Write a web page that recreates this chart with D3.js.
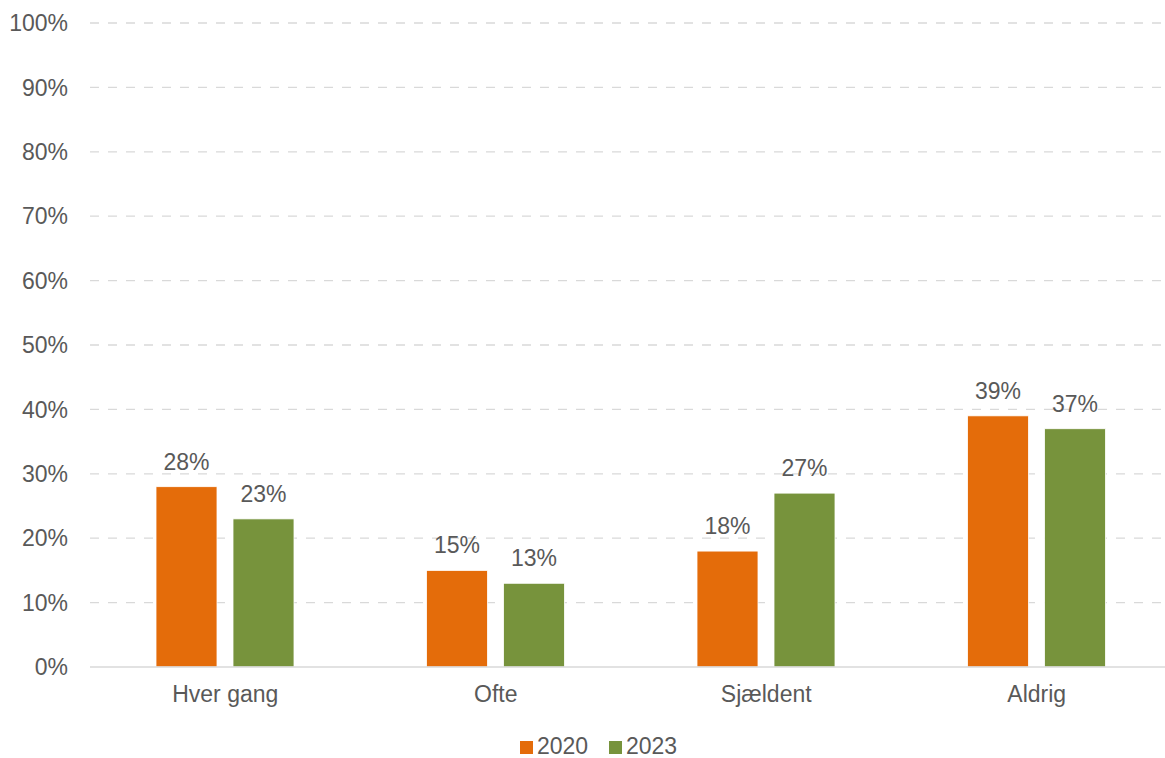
<!DOCTYPE html>
<html><head><meta charset="utf-8">
<script src="https://cdn.jsdelivr.net/npm/d3@7"></script>
<style>body{margin:0;background:#fff}svg{display:block}text{font-family:"Liberation Sans",Arial,sans-serif;fill:#595959}</style>
</head><body><svg id="c" width="1165" height="758"></svg>
<script>
const categories = ["Hver gang", "Ofte", "Sjældent", "Aldrig"];
const seriesNames = ["2020", "2023"];
const values2020 = [28, 15, 18, 39];
const values2023 = [23, 13, 27, 37];
const yTicks = [0,10,20,30,40,50,60,70,80,90,100];
const colors = ["#E46C0A", "#77933C"];

(function(){
const svg = d3.select("#c");
const mLeft = 90, mRight = 1172, mTop = 23, mBottom = 667;
const x = d3.scaleBand().domain(categories).range([mLeft, mRight]).paddingInner(0).paddingOuter(0);
const inner = d3.scaleBand().domain(seriesNames).range([66, 204]).paddingInner(16/77).paddingOuter(0);
const y = d3.scaleLinear().domain([0,100]).range([mBottom, mTop]);
const fs = 23;

// gridlines
svg.append("g").selectAll("line").data(yTicks.filter(d=>d>0)).join("line")
  .attr("x1", mLeft).attr("x2", 1165).attr("y1", d=>y(d)).attr("y2", d=>y(d))
  .attr("stroke", "#d9d9d9").attr("stroke-width", 1.3).attr("stroke-dasharray", "9,9");

// y tick labels
svg.append("g").selectAll("text").data(yTicks).join("text")
  .attr("x", 68).attr("y", d=>y(d)).attr("dy", "0.36em").attr("text-anchor", "end")
  .attr("font-size", fs).text(d=>d+"%");

const data = [];
categories.forEach((c,i)=>{
  data.push({c, s:"2020", v:values2020[i], col:colors[0]});
  data.push({c, s:"2023", v:values2023[i], col:colors[1]});
});

svg.append("g").selectAll("rect").data(data).join("rect")
  .attr("x", d=>x(d.c)+inner(d.s)).attr("width", inner.bandwidth())
  .attr("y", d=>y(d.v)).attr("height", d=>y(0)-y(d.v))
  .attr("fill", d=>d.col).attr("stroke", "#fff").attr("stroke-width", 0.8);

// axis line
svg.append("line").attr("x1", mLeft).attr("x2", 1165).attr("y1", y(0)).attr("y2", y(0))
  .attr("stroke", "#d9d9d9").attr("stroke-width", 1.5);

// data labels
svg.append("g").selectAll("text").data(data).join("text")
  .attr("x", d=>x(d.c)+inner(d.s)+inner.bandwidth()/2).attr("y", d=>y(d.v)-17)
  .attr("text-anchor", "middle").attr("font-size", fs).text(d=>d.v+"%");

// category labels
svg.append("g").selectAll("text").data(categories).join("text")
  .attr("x", d=>x(d)+x.bandwidth()/2).attr("y", 702).attr("text-anchor", "middle")
  .attr("font-size", fs).text(d=>d);

// legend
const lg = svg.append("g");
const legX = [520, 609];
seriesNames.forEach((s,i)=>{
  lg.append("rect").attr("x", legX[i]).attr("y", 741).attr("width", 13).attr("height", 13).attr("fill", colors[i]);
  lg.append("text").attr("x", legX[i]+17).attr("y", 754).attr("font-size", fs).text(s);
});
})();
</script></body></html>
